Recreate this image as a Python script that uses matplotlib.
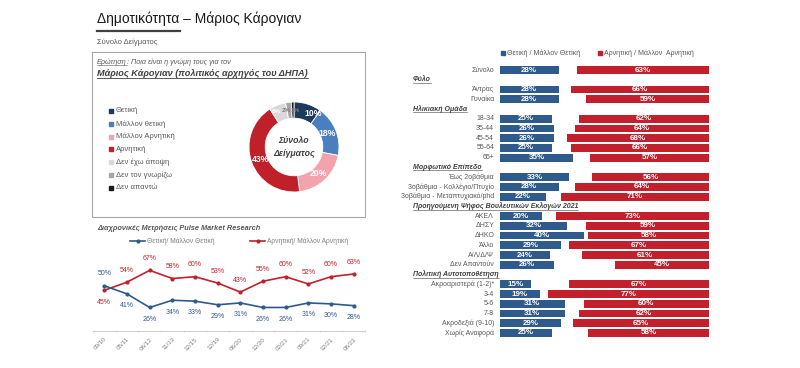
import matplotlib
matplotlib.use("Agg")
import matplotlib.pyplot as plt
from matplotlib.patches import Rectangle
import numpy as np

plt.rcParams['font.family'] = ['Liberation Sans', 'DejaVu Sans']

# donut data
donut_labels = ["Θετική", "Μάλλον θετική", "Μάλλον Αρνητική", "Αρνητική",
                "Δεν έχω άποψη", "Δεν τον γνωρίζω", "Δεν απαντώ"]
donut_values = [10, 18, 20, 43, 6, 2, 1]
donut_colors = ["#1B3A5C", "#4A7FBF", "#F2A3AB", "#C0202A", "#D9D9D9", "#A6A6A6", "#1A1A1A"]

# trend data
dates = ["09/10", "05/11", "06/12", "11/13", "12/15", "12/19",
         "06/20", "12/20", "02/21", "09/21", "12/21", "06/23"]
pos_trend = [50, 41, 26, 34, 33, 29, 31, 26, 26, 31, 30, 28]
neg_trend = [45, 54, 67, 58, 60, 53, 43, 55, 60, 52, 60, 63]

# breakdown data
categories = ["Σύνολο", "Άντρας", "Γυναίκα",
              "18-34", "35-44", "45-54", "55-64", "65+",
              "Έως 2οβάθμια", "3οβάθμια - Κολλέγιο/Πτυχίο", "3οβάθμια - Μεταπτυχιακό/phd",
              "ΑΚΕΛ", "ΔΗΣΥ", "ΔΗΚΟ", "Άλλο", "Α/Λ/Δ/Ψ", "Δεν Απαντούν",
              "Ακροαριστερά (1-2)*", "3-4", "5-6", "7-8", "Ακροδεξιά (9-10)", "Χωρίς Αναφορά"]
positive = [28, 28, 28, 25, 26, 26, 25, 35, 33, 28, 22, 20, 32, 40, 29, 24, 26, 15, 19, 31, 31, 29, 25]
negative = [63, 66, 59, 62, 64, 68, 66, 57, 56, 64, 71, 73, 59, 58, 67, 61, 45, 67, 77, 60, 62, 65, 58]
sections = ["Φύλο", "Ηλικιακή Ομάδα", "Μορφωτικό Επίπεδο",
            "Προηγούμενη Ψήφος Βουλευτικών Εκλογών 2021", "Πολιτική Αυτοτοποθέτηση"]
section_start = [1, 3, 8, 11, 17]

BLUE = "#2F5A8C"
RED = "#C2202C"
GRAY = "#595959"

W, H = 800, 368
fig = plt.figure(figsize=(W / 100, H / 100), dpi=100)


def px(x0, y0, x1, y1):
    return [x0 / W, 1 - y1 / H, (x1 - x0) / W, (y1 - y0) / H]


bg = fig.add_axes([0, 0, 1, 1], zorder=0)
bg.set_xlim(0, W)
bg.set_ylim(H, 0)
bg.axis('off')


def underline(t, lw=0.5):
    fig.canvas.draw()
    bb = t.get_window_extent()
    inv = bg.transData.inverted()
    (x0, y0), (x1, y1) = inv.transform([[bb.x0, bb.y0], [bb.x1, bb.y1]])
    bg.plot([x0, x1], [y0 - 0.5, y0 - 0.5], color=t.get_color(), lw=lw, zorder=5)
    return x1


# header
bg.text(97, 19, "Δημοτικότητα – Μάριος Κάρογιαν", fontsize=10, color="#1A1A1A", va='center')
bg.plot([97, 180], [31, 31], color="#404040", lw=1.6)
bg.text(97, 42, "Σύνολο Δείγματος", fontsize=5.5, color=GRAY, va='center')

# question box
bg.add_patch(Rectangle((92, 52), 273, 165, fill=False, ec="#A6A6A6", lw=0.8))
t = bg.text(97, 62, "Ερώτηση", fontsize=5.2, style='italic', color=GRAY, va='center')
xe = underline(t, 0.4)
bg.text(xe, 62, ": Ποια είναι η γνώμη τους για τον", fontsize=5.2, style='italic', color=GRAY, va='center')
t = bg.text(97, 74, "Μάριος Κάρογιαν (πολιτικός αρχηγός του ΔΗΠΑ)", fontsize=6.6,
            style='italic', weight='bold', color="#404040", va='center')
underline(t, 0.6)

# donut legend
for i, (lab, col) in enumerate(zip(donut_labels, donut_colors)):
    y = 111 + i * 12.8
    bg.add_patch(Rectangle((109, y - 2), 4, 4, color=col))
    bg.text(116, y, lab, fontsize=5.5, color=GRAY, va='center')

# donut
ax_d = fig.add_axes(px(249, 102, 339, 192))
wedges, _, autotexts = ax_d.pie(donut_values, colors=donut_colors, startangle=90, counterclock=False,
                                radius=1, wedgeprops=dict(width=0.36, edgecolor='white', linewidth=0.6),
                                autopct='%d%%', pctdistance=0.8,
                                textprops=dict(color='white', fontsize=6.2, weight='bold'))
# the top labels crowd together, spread them a little
top_pos = {0: (0.42, 0.74), 4: (-0.40, 0.78), 5: (-0.18, 0.80), 6: (0.02, 0.80)}
for k, at in enumerate(autotexts):
    if k in top_pos:
        at.set_position(top_pos[k])
    if donut_values[k] < 5:
        at.set_color("#7F7F7F")
        at.set_fontsize(4.6)
    if donut_values[k] < 10 and k != 0:
        at.set_fontsize(4.6)
ax_d.set_xlim(-1, 1)
ax_d.set_ylim(-1, 1)
ax_d.set_aspect('equal')
ax_d.text(0, 0, "Σύνολο\nΔείγματος", ha='center', va='center', fontsize=6.3,
          style='italic', weight='bold', color="#404040", linespacing=1.5)

# trend chart
bg.text(97, 228, "Διαχρονικές Μετρήσεις Pulse Market Research", fontsize=5.3,
        style='italic', weight='bold', color=GRAY, va='center')
bg.plot([130, 145], [241, 241], color=BLUE, lw=1.2)
bg.plot([137.5], [241], 'o', color=BLUE, ms=2)
bg.text(147, 241, "Θετική/ Μάλλον Θετική", fontsize=4.8, color="#7F7F7F", va='center')
bg.plot([250, 265], [241, 241], color=RED, lw=1.2)
bg.plot([257.5], [241], 'o', color=RED, ms=2)
bg.text(267, 241, "Αρνητική/ Μάλλον Αρνητική", fontsize=4.8, color="#7F7F7F", va='center')

ax_t = fig.add_axes(px(93, 255, 365, 331))
xs = np.arange(len(dates))
ax_t.plot(xs, neg_trend, color=RED, lw=1.2, marker='o', ms=2)
ax_t.plot(xs, pos_trend, color=BLUE, lw=1.2, marker='o', ms=2)
for i in xs:
    p, n = pos_trend[i], neg_trend[i]
    p_up = p > n
    ax_t.annotate(f"{p}%", (i, p), xytext=(0, 6 if p_up else -6), textcoords='offset points',
                  ha='center', va='bottom' if p_up else 'top', fontsize=5, color=BLUE)
    ax_t.annotate(f"{n}%", (i, n), xytext=(0, -6 if p_up else 6), textcoords='offset points',
                  ha='center', va='top' if p_up else 'bottom', fontsize=5, color=RED)
ax_t.set_xlim(-0.5, len(dates) - 0.5)
ax_t.set_ylim(0, 84)
for s in ['top', 'right', 'left']:
    ax_t.spines[s].set_visible(False)
ax_t.spines['bottom'].set_color("#D0D0D0")
ax_t.set_yticks([])
ax_t.set_xticks(xs)
ax_t.set_xticklabels(dates, rotation=45, ha='right', va='top', rotation_mode='anchor',
                     fontsize=4.5, color="#7F7F7F")
ax_t.tick_params(axis='x', which='major', length=0, pad=4)
ax_t.set_xticks(np.arange(-0.5, len(dates), 1), minor=True)
ax_t.tick_params(axis='x', which='minor', length=2, direction='inout', color="#D0D0D0")
ax_t.patch.set_alpha(0)

# breakdown chart
rows = []
pos_idx = 0
for i in range(len(categories)):
    if i in section_start:
        pos_idx += 1
    rows.append(pos_idx)
    pos_idx += 1
header_rows = [section_start[k] + k for k in range(len(sections))]
nrows = pos_idx

step = (333 - 70) / (nrows - 1)
ax_b = fig.add_axes(px(500, 70 - step / 2, 709, 333 + step / 2))
ax_b.barh(rows, positive, height=0.8, color=BLUE)
ax_b.barh(rows, negative, left=[100 - v for v in negative], height=0.8, color=RED)
ax_b.set_xlim(0, 100)
ax_b.set_ylim(nrows - 0.5, -0.5)
ax_b.axis('off')
for r, lab, p, n in zip(rows, categories, positive, negative):
    ax_b.text(-2.8, r, lab, ha='right', va='center', fontsize=5, color=GRAY)
    ax_b.text(p / 2, r, f"{p}%", ha='center', va='center', fontsize=5.8, weight='bold', color='white')
    ax_b.text(100 - n / 2, r, f"{n}%", ha='center', va='center', fontsize=5.8, weight='bold', color='white')
for r, s in zip(header_rows, sections):
    t = ax_b.text(-41.6, r, s, ha='left', va='center', fontsize=5, style='italic',
                  weight='bold', color="#404040")
    underline(t, 0.4)

# breakdown legend
bg.add_patch(Rectangle((501, 51), 4, 4, color=BLUE))
bg.text(507, 53, "Θετική / Μάλλον Θετική", fontsize=5, color=GRAY, va='center')
bg.add_patch(Rectangle((598, 51), 4, 4, color=RED))
bg.text(604, 53, "Αρνητική / Μάλλον  Αρνητική", fontsize=5, color=GRAY, va='center')

fig.savefig("out.png", dpi=100, facecolor='white')
